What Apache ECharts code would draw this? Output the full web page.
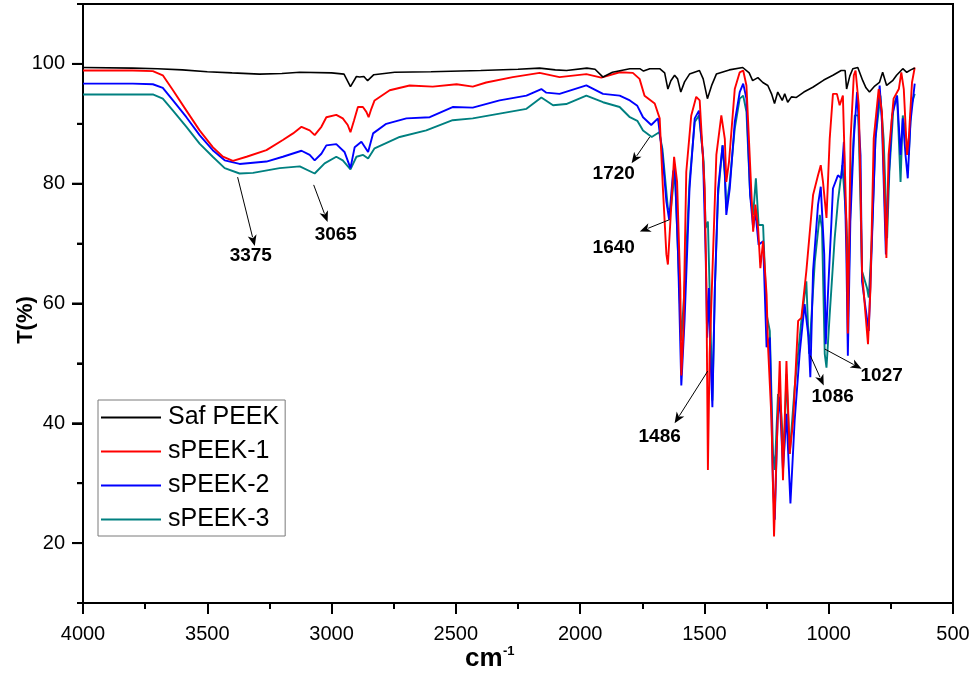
<!DOCTYPE html>
<html><head><meta charset="utf-8">
<script src="https://cdn.jsdelivr.net/npm/echarts@6/dist/echarts.min.js"></script>
<style>html,body{margin:0;padding:0;background:#fff}#c{width:974px;height:675px}</style>
</head><body><div id="c"></div>
<script>
const seriesNames = ['Saf PEEK', 'sPEEK-1', 'sPEEK-2', 'sPEEK-3'];
const seriesColors = ['#000000', '#ff0000', '#0000ff', '#008080'];

const safPeek = [[4000,99.4],[3800,99.3],[3700,99.2],[3600,99.0],[3500,98.7],[3400,98.5],[3290,98.3],[3200,98.4],[3128,98.6],[3000,98.5],[2950,98.3],[2924,96.2],[2900,97.9],[2887,97.8],[2870,97.9],[2855,97.2],[2830,98.2],[2746,98.6],[2600,98.7],[2400,98.9],[2250,99.1],[2163,99.3],[2100,99.0],[2055,98.9],[1973,99.3],[1940,99.1],[1908,97.8],[1870,98.6],[1800,99.2],[1760,99.2],[1745,98.8],[1720,99.2],[1680,99.2],[1660,98.5],[1647,95.8],[1635,97.2],[1620,98.1],[1608,97.5],[1595,95.3],[1580,97.0],[1560,98.3],[1520,98.9],[1505,97.5],[1488,94.2],[1470,96.5],[1452,98.3],[1400,99.0],[1346,99.4],[1320,98.5],[1306,97.2],[1285,97.7],[1265,96.9],[1245,96.4],[1230,95.0],[1218,93.4],[1205,95.3],[1187,93.9],[1177,95.0],[1165,93.6],[1150,94.5],[1130,94.4],[1100,95.3],[1064,96.1],[1020,97.3],[983,98.1],[950,98.9],[934,98.9],[928,95.8],[915,98.0],[903,99.2],[883,99.4],[863,97.2],[850,96.0],[836,95.3],[815,96.3],[796,96.9],[783,98.6],[767,96.4],[743,97.2],[727,98.1],[702,99.2],[686,98.6],[670,99.0],[654,99.3]];

const speek1 = [[4000,98.9],[3800,98.9],[3719,98.8],[3679,98.1],[3638,95.6],[3584,92.2],[3531,88.9],[3478,86.1],[3437,84.5],[3397,83.8],[3342,84.5],[3262,85.6],[3196,87.3],[3155,88.4],[3121,89.5],[3088,88.9],[3068,88.1],[3041,89.5],[3021,91.1],[2981,91.5],[2955,90.9],[2935,89.8],[2924,88.6],[2910,90.5],[2894,92.8],[2874,92.8],[2860,92.0],[2851,91.1],[2840,92.5],[2827,93.9],[2766,95.6],[2686,96.4],[2593,96.2],[2497,96.6],[2432,96.2],[2378,96.9],[2271,97.8],[2163,98.5],[2083,97.8],[1975,98.3],[1915,97.7],[1841,98.6],[1788,98.5],[1761,97.5],[1741,94.7],[1700,93.4],[1680,90.9],[1667,79.2],[1653,68.2],[1647,66.5],[1637,73.7],[1622,84.5],[1610,80.3],[1597,62.6],[1593,48.0],[1585,55.0],[1573,82.0],[1553,91.4],[1533,94.5],[1519,93.9],[1499,79.2],[1492,62.6],[1486,32.2],[1479,51.6],[1470,62.6],[1452,84.8],[1432,91.4],[1418,87.5],[1412,80.3],[1401,83.7],[1378,95.8],[1358,98.6],[1344,98.9],[1331,96.4],[1318,84.8],[1304,72.0],[1295,76.5],[1284,72.6],[1275,65.9],[1264,70.4],[1250,61.5],[1244,52.7],[1230,40.5],[1220,21.1],[1210,34.9],[1197,50.4],[1184,30.5],[1170,50.4],[1157,34.9],[1143,40.5],[1123,57.1],[1110,57.6],[1090,65.4],[1063,78.1],[1043,81.4],[1032,83.1],[1023,80.3],[1009,74.3],[996,87.5],[983,95.0],[967,95.0],[956,93.1],[943,94.7],[929,73.7],[923,55.0],[912,87.5],[899,98.1],[892,98.9],[879,93.1],[872,79.2],[866,65.4],[852,58.2],[842,53.2],[832,62.6],[819,87.5],[799,95.8],[786,92.0],[772,73.7],[768,67.6],[759,84.8],[739,94.2],[718,95.8],[708,98.6],[698,95.8],[685,84.8],[678,87.5],[665,96.9],[654,99.4]];

const speek2 = [[4000,96.7],[3800,96.7],[3719,96.6],[3679,96.0],[3638,93.9],[3584,91.1],[3531,88.1],[3478,85.6],[3430,83.9],[3370,83.3],[3262,83.7],[3196,84.5],[3121,85.5],[3088,84.8],[3068,83.9],[3041,85.0],[3021,86.4],[2981,86.6],[2948,85.3],[2924,82.6],[2907,86.1],[2880,87.0],[2853,85.3],[2833,88.4],[2780,90.0],[2699,90.9],[2605,91.1],[2513,92.8],[2432,92.7],[2324,93.9],[2216,94.7],[2156,95.8],[2136,95.2],[2083,95.0],[1975,96.4],[1908,95.0],[1841,94.7],[1800,93.9],[1770,93.0],[1747,91.1],[1714,89.8],[1687,90.9],[1669,84.8],[1653,77.0],[1642,74.0],[1626,82.0],[1619,82.6],[1606,68.2],[1593,46.3],[1580,57.1],[1560,79.2],[1539,90.9],[1522,92.2],[1506,84.8],[1495,68.2],[1489,54.3],[1482,62.6],[1476,51.6],[1468,42.7],[1458,62.6],[1445,79.2],[1427,86.4],[1418,82.0],[1412,74.8],[1398,79.2],[1378,90.3],[1358,95.3],[1344,96.7],[1331,94.2],[1316,78.1],[1304,72.6],[1295,75.4],[1282,69.8],[1264,70.4],[1250,52.7],[1237,54.3],[1224,29.4],[1217,23.9],[1206,40.5],[1197,44.4],[1184,32.2],[1170,41.6],[1154,26.6],[1137,40.5],[1117,51.6],[1097,59.9],[1081,54.3],[1074,47.7],[1063,65.4],[1043,76.5],[1032,79.5],[1018,68.2],[1012,53.2],[1002,62.6],[989,73.7],[983,79.2],[963,81.4],[949,80.9],[939,87.0],[929,68.2],[923,51.3],[913,73.7],[899,87.5],[886,95.3],[872,84.8],[866,63.7],[852,59.3],[839,55.4],[828,68.2],[812,87.5],[795,96.4],[786,90.3],[770,68.2],[761,79.2],[745,91.4],[725,94.7],[711,84.8],[702,90.9],[691,84.8],[682,80.9],[671,90.3],[654,96.7]];

const speek3 = [[4000,94.9],[3800,94.9],[3719,94.9],[3679,94.2],[3638,92.2],[3584,89.5],[3531,86.7],[3478,84.5],[3430,82.6],[3370,81.7],[3316,81.8],[3209,82.6],[3128,82.9],[3068,81.7],[3028,83.4],[2981,84.5],[2955,83.9],[2924,82.4],[2900,84.5],[2873,84.8],[2853,84.2],[2827,85.9],[2726,87.8],[2619,88.9],[2513,90.6],[2432,90.9],[2324,91.7],[2216,92.5],[2156,94.4],[2109,93.1],[2056,93.3],[1975,94.7],[1908,93.6],[1841,92.8],[1800,91.1],[1770,90.5],[1747,88.9],[1712,87.8],[1682,88.6],[1669,85.8],[1647,75.9],[1636,75.4],[1619,82.3],[1606,68.2],[1593,53.8],[1580,62.6],[1560,80.3],[1539,90.3],[1522,91.4],[1503,83.7],[1495,72.6],[1486,73.7],[1476,57.1],[1468,43.8],[1458,62.6],[1445,78.1],[1427,86.4],[1418,81.4],[1412,75.9],[1398,80.3],[1378,89.2],[1358,94.2],[1344,94.7],[1331,92.0],[1316,78.1],[1304,74.8],[1293,80.9],[1282,73.1],[1264,73.1],[1250,58.2],[1237,55.4],[1224,34.9],[1217,32.2],[1204,44.9],[1193,42.7],[1180,34.9],[1170,48.2],[1157,34.9],[1137,46.0],[1110,57.1],[1090,63.7],[1079,51.6],[1072,56.0],[1056,67.0],[1036,74.8],[1027,72.6],[1016,51.6],[1009,49.3],[996,58.2],[976,70.9],[963,77.0],[945,83.1],[929,73.7],[919,63.7],[912,78.1],[895,91.4],[881,91.4],[872,76.5],[866,65.4],[846,62.6],[839,61.0],[828,69.3],[812,87.5],[792,94.7],[779,87.5],[765,70.9],[756,82.0],[739,93.1],[725,94.7],[711,80.3],[702,91.4],[688,87.5],[678,84.8],[668,93.1],[654,95.0]];

const xTickLabels = [500, 1000, 1500, 2000, 2500, 3000, 3500, 4000];
const yTickLabels = [20, 40, 60, 80, 100];
const yTickValues = [10, 20, 30, 40, 50, 60, 70, 80, 90, 100, 110];

const annotationText = ['3375', '3065', '1720', '1640', '1486', '1086', '1027'];
const annotationLabelAt = [[3325,68.0],[2983,71.5],[1865,81.6],[1865,69.3],[1680,37.8],[984,44.4],[787,47.9]];
const arrowFrom = [[3378,81.1],[3072,79.8],[1720,87.8],[1640,74.0],[1487,48.7],[1074,51.3],[1016,52.4]];
const arrowTo = [[3309,69.6],[3016,73.6],[1793,83.4],[1760,72.0],[1620,40.0],[1020,46.3],[868,49.1]];

const FONT = "'Liberation Sans', Arial, sans-serif";
const chart = echarts.init(document.getElementById('c'), null, {renderer: 'canvas'});

const allData = [safPeek, speek1, speek2, speek3];
const lineSeries = allData.map((d, i) => ({
  name: seriesNames[i],
  type: 'line',
  data: d,
  symbol: 'none',
  showSymbol: false,
  smooth: false,
  z: 10 - i,
  lineStyle: {color: seriesColors[i], width: i === 0 ? 1.6 : 1.9},
  itemStyle: {color: seriesColors[i]},
  emphasis: {disabled: true},
  animation: false
}));

const titleGraphics = [
  {type: 'text', x: 26, y: 320, rotation: Math.PI / 2,
   style: {text: 'T(%)', font: "bold 22px 'Liberation Sans', Arial, sans-serif", fill: '#000',
           align: 'center', verticalAlign: 'middle'}},
  {type: 'text', x: 465, y: 659,
   style: {text: 'cm', font: "bold 26px 'Liberation Sans', Arial, sans-serif", fill: '#000',
           align: 'left', verticalAlign: 'middle'}},
  {type: 'text', x: 503, y: 651,
   style: {text: '-1', font: "bold 13px 'Liberation Sans', Arial, sans-serif", fill: '#000',
           align: 'left', verticalAlign: 'middle'}}
];

chart.setOption({
  backgroundColor: '#ffffff',
  animation: false,
  grid: {left: 83, right: 21, top: 4, bottom: 72, show: true, borderColor: '#000', borderWidth: 2},
  legend: {
    data: seriesNames,
    orient: 'vertical',
    left: 98, top: 400,
    padding: [5, 6, 4, 3],
    itemGap: 9,
    itemWidth: 60,
    itemHeight: 2,
    icon: 'rect',
    backgroundColor: '#ffffff',
    borderColor: '#7a7a7a',
    borderWidth: 1,
    borderRadius: 0,
    selectedMode: false,
    textStyle: {fontFamily: FONT, fontSize: 25, color: '#000', padding: [0, 0, 0, 2], lineHeight: 24}
  },
  xAxis: {
    type: 'value',
    inverse: true,
    min: 500, max: 4000, interval: 500,
    axisLine: {show: true, lineStyle: {color: '#000', width: 2}},
    axisTick: {show: true, length: 11, lineStyle: {color: '#000', width: 2}},
    minorTick: {show: true, splitNumber: 2, length: 6, lineStyle: {color: '#000', width: 2}},
    splitLine: {show: false},
    minorSplitLine: {show: false},
    axisLabel: {show: true, margin: 21, color: '#000', fontFamily: FONT, fontSize: 20,
      formatter: v => (xTickLabels.indexOf(v) >= 0 ? String(v) : '')}
  },
  yAxis: {
    type: 'value',
    min: 10, max: 110, interval: 20,
    axisLine: {show: true, lineStyle: {color: '#000', width: 2}},
    axisTick: {show: true, length: 6, lineStyle: {color: '#000', width: 2}},
    minorTick: {show: true, splitNumber: 2, length: 11, lineStyle: {color: '#000', width: 2}},
    axisLabel: {show: true, margin: 18, customValues: yTickLabels, color: '#000', fontFamily: FONT, fontSize: 20},
    splitLine: {show: false}
  },
  graphic: titleGraphics,
  series: lineSeries
});

// y tick marks (reinforced) and annotations, positioned through the chart's own scales
const extraGraphics = [];
const axisX = chart.convertToPixel({xAxisIndex: 0}, 4000);
yTickValues.forEach(v => {
  const py = chart.convertToPixel({yAxisIndex: 0}, v);
  const len = (v % 20 === 0) ? 11 : 6;
  extraGraphics.push({type: 'line', z: 40, shape: {x1: axisX - len, y1: py, x2: axisX, y2: py},
    style: {stroke: '#000', lineWidth: 2}});
});
annotationText.forEach((t, i) => {
  const p1 = chart.convertToPixel({xAxisIndex: 0, yAxisIndex: 0}, arrowFrom[i]);
  const p2 = chart.convertToPixel({xAxisIndex: 0, yAxisIndex: 0}, arrowTo[i]);
  const lp = chart.convertToPixel({xAxisIndex: 0, yAxisIndex: 0}, annotationLabelAt[i]);
  const dx = p2[0] - p1[0], dy = p2[1] - p1[1];
  const len = Math.sqrt(dx * dx + dy * dy);
  const ux = dx / len, uy = dy / len;
  const hl = 11, hw = 4.5;
  const bx = p2[0] - ux * hl, by = p2[1] - uy * hl;
  extraGraphics.push({type: 'line', z: 50, shape: {x1: p1[0], y1: p1[1], x2: bx + ux * 2, y2: by + uy * 2},
    style: {stroke: '#000', lineWidth: 1}});
  extraGraphics.push({type: 'polygon', z: 50, shape: {points: [[p2[0], p2[1]], [bx - uy * hw, by + ux * hw], [bx + ux * 3, by + uy * 3], [bx + uy * hw, by - ux * hw]]},
    style: {fill: '#000'}});
  extraGraphics.push({type: 'text', z: 50, x: lp[0], y: lp[1],
    style: {text: t, font: "bold 19px 'Liberation Sans', Arial, sans-serif", fill: '#000', align: 'center', verticalAlign: 'middle'}});
});
chart.setOption({graphic: titleGraphics.concat(extraGraphics)});
</script>
</body></html>
